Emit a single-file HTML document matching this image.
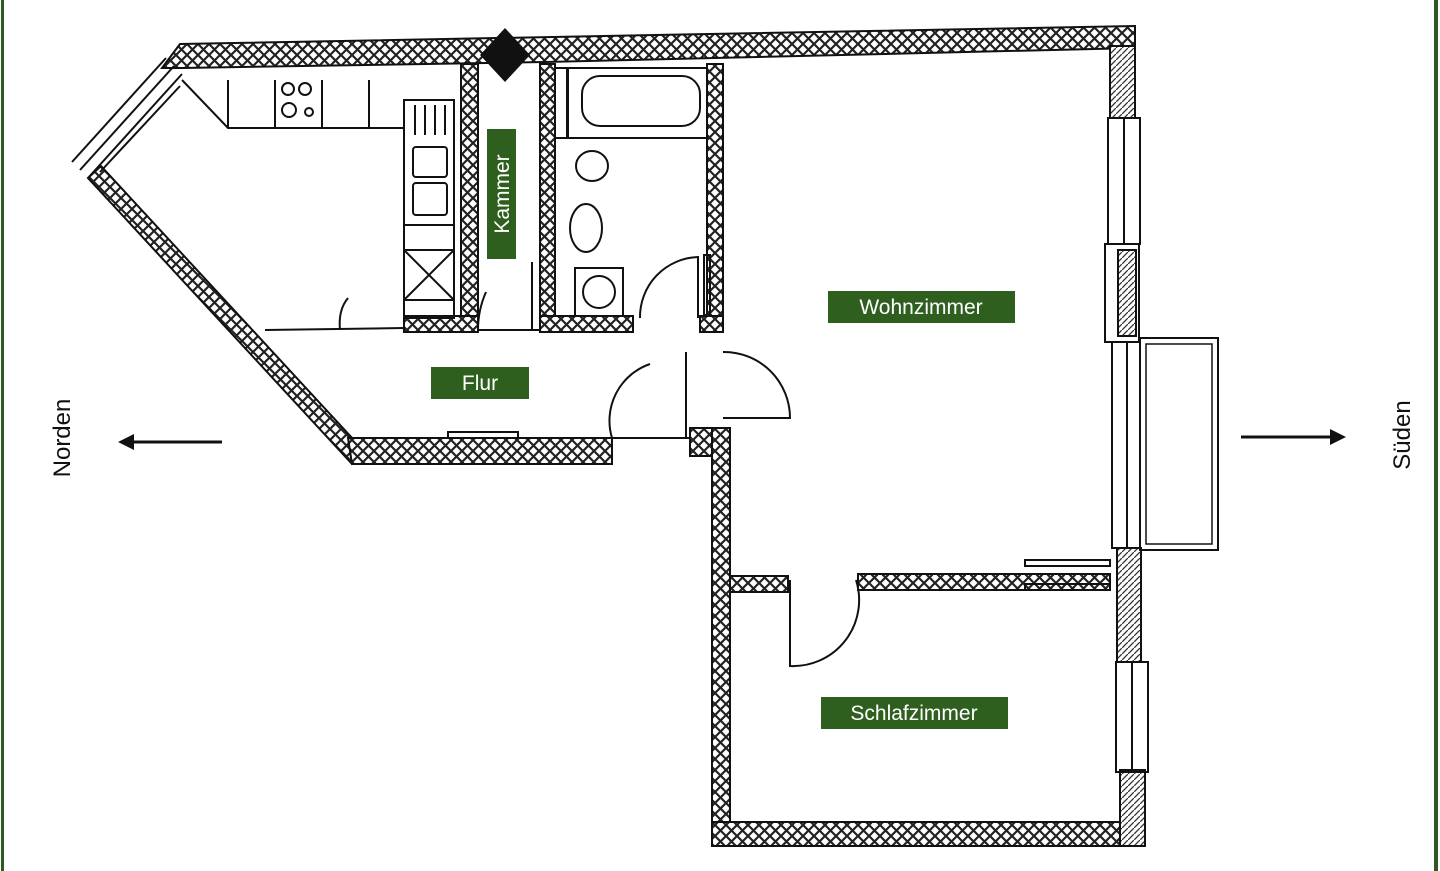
<!DOCTYPE html>
<html><head><meta charset="utf-8"><style>
html,body{margin:0;padding:0;background:#fff;}
svg{display:block}
text{font-family:"Liberation Sans",sans-serif;}
</style></head><body>
<svg width="1440" height="871" viewBox="0 0 1440 871" xmlns="http://www.w3.org/2000/svg">
<defs>
<pattern id="x" width="11" height="11" patternUnits="userSpaceOnUse">
<rect width="11" height="11" fill="#fff"/>
<path d="M0 0L11 11M11 0L0 11" stroke="#222" stroke-width="2.2"/>
</pattern>
<pattern id="h" width="6" height="6" patternUnits="userSpaceOnUse">
<rect width="6" height="6" fill="#fff"/>
<path d="M0 6L6 0" stroke="#333" stroke-width="1.3"/>
</pattern>
</defs>
<rect x="0" y="0" width="1440" height="871" fill="#fff"/>
<rect x="1" y="0" width="3" height="871" fill="#2d5a1e"/>
<rect x="1434" y="0" width="4" height="871" fill="#2d5a1e"/>

<g stroke="#111" stroke-width="2" fill="url(#x)">
<polygon points="180,44 1135,26 1135,48 545,62 182,68 162,68"/>
<polygon points="88,178 101,166 365,452 352,464"/>
<polygon points="348,438 612,438 612,464 352,464"/>
<rect x="461" y="64" width="17" height="266"/>
<rect x="540" y="64" width="15" height="268"/>
<rect x="707" y="64" width="16" height="262"/>
<rect x="404" y="316" width="74" height="16"/>
<rect x="540" y="316" width="93" height="16"/>
<rect x="700" y="316" width="23" height="16"/>
<rect x="690" y="428" width="40" height="28"/>
<rect x="712" y="428" width="18" height="418"/>
<rect x="712" y="822" width="433" height="24"/>
<rect x="730" y="576" width="58" height="16"/>
<rect x="858" y="574" width="252" height="16"/>
</g>
<g stroke="#111" stroke-width="2" fill="url(#h)">
<rect x="1110" y="46" width="25" height="72"/>
<rect x="1117" y="548" width="24" height="114"/>
<rect x="1120" y="770" width="25" height="76"/>
<rect x="1118" y="250" width="18" height="86"/>
</g>
<g stroke="#111" stroke-width="2" fill="none">
<path d="M72,162 L166,58 M88,178 L182,74 M80,170 L174,66 M100,172 L180,86"/>
<rect x="1108" y="118" width="32" height="126"/>
<line x1="1124" y1="118" x2="1124" y2="244"/>
<rect x="1105" y="244" width="34" height="98"/>
<rect x="1112" y="342" width="28" height="206"/>
<line x1="1127" y1="342" x2="1127" y2="548"/>
<rect x="1116" y="662" width="32" height="110"/>
<line x1="1132" y1="662" x2="1132" y2="772"/>
<rect x="1140" y="338" width="78" height="212"/>
<rect x="1146" y="344" width="66" height="200" stroke-width="1.5"/>
<rect x="1025" y="560" width="85" height="6"/>
<rect x="1025" y="584" width="85" height="6"/>
<line x1="265" y1="330" x2="404" y2="328"/>
<line x1="478" y1="330" x2="540" y2="330"/>
<line x1="612" y1="438" x2="690" y2="438"/>
<path d="M182,80 L228,128 L404,128 M228,80 L228,128 M275,80 L275,128 M322,80 L322,128 M369,80 L369,128"/>
<circle cx="288" cy="89" r="6"/><circle cx="305" cy="89" r="6"/><circle cx="289" cy="110" r="7"/><circle cx="309" cy="112" r="4"/>
<rect x="404" y="100" width="50" height="218"/>
<rect x="413" y="147" width="34" height="30" rx="3"/>
<rect x="413" y="183" width="34" height="32" rx="3"/>
<line x1="404" y1="225" x2="454" y2="225"/><line x1="404" y1="250" x2="454" y2="250"/>
<path d="M404,250 L454,300 M454,250 L404,300 M404,300 L454,300"/>
<path d="M415,105v30M425,105v30M435,105v30M445,105v30"/>
<rect x="568" y="68" width="139" height="70"/>
<rect x="582" y="76" width="118" height="50" rx="18"/>
<rect x="555" y="68" width="12" height="70"/>
<ellipse cx="592" cy="166" rx="16" ry="15"/>
<ellipse cx="586" cy="228" rx="16" ry="24"/>
<rect x="575" y="268" width="48" height="48"/>
<circle cx="599" cy="292" r="16"/>
<path d="M640,318 A60,60 0 0 1 698,257 L698,318"/>
<rect x="704" y="255" width="6" height="60"/>
<path d="M612,438 A60,60 0 0 1 650,364"/>
<path d="M686,352 L686,438"/>
<path d="M723,352 A66,66 0 0 1 790,418 L723,418"/>
<path d="M790,580 L790,666 A66,66 0 0 0 856,580"/>
<path d="M340,330 Q338,310 348,298"/>
<path d="M478,330 Q478,310 486,292"/>
<path d="M532,330 L532,262"/>
<rect x="448" y="432" width="70" height="6"/>
</g>
<polygon points="505,28 530,55 505,82 480,55" fill="#111"/>
<g fill="#2f5f1f">
<rect x="487" y="129" width="29" height="130"/>
<rect x="828" y="291" width="187" height="32"/>
<rect x="431" y="367" width="98" height="32"/>
<rect x="821" y="697" width="187" height="32"/>
</g>
<g fill="#fff" font-size="21">
<text x="921" y="314" text-anchor="middle">Wohnzimmer</text>
<text x="480" y="390" text-anchor="middle">Flur</text>
<text x="914" y="720" text-anchor="middle">Schlafzimmer</text>
<text transform="translate(509,194) rotate(-90)" text-anchor="middle">Kammer</text>
</g>
<g fill="#111" font-size="24">
<text transform="translate(70,438) rotate(-90)" text-anchor="middle">Norden</text>
<text transform="translate(1410,435) rotate(-90)" text-anchor="middle">Süden</text>
</g>
<g stroke="#111" stroke-width="3">
<line x1="130" y1="442" x2="222" y2="442"/>
<line x1="1241" y1="437" x2="1333" y2="437"/>
</g>
<polygon points="118,442 134,434 134,450" fill="#111"/>
<polygon points="1346,437 1330,429 1330,445" fill="#111"/>
</svg>
</body></html>
